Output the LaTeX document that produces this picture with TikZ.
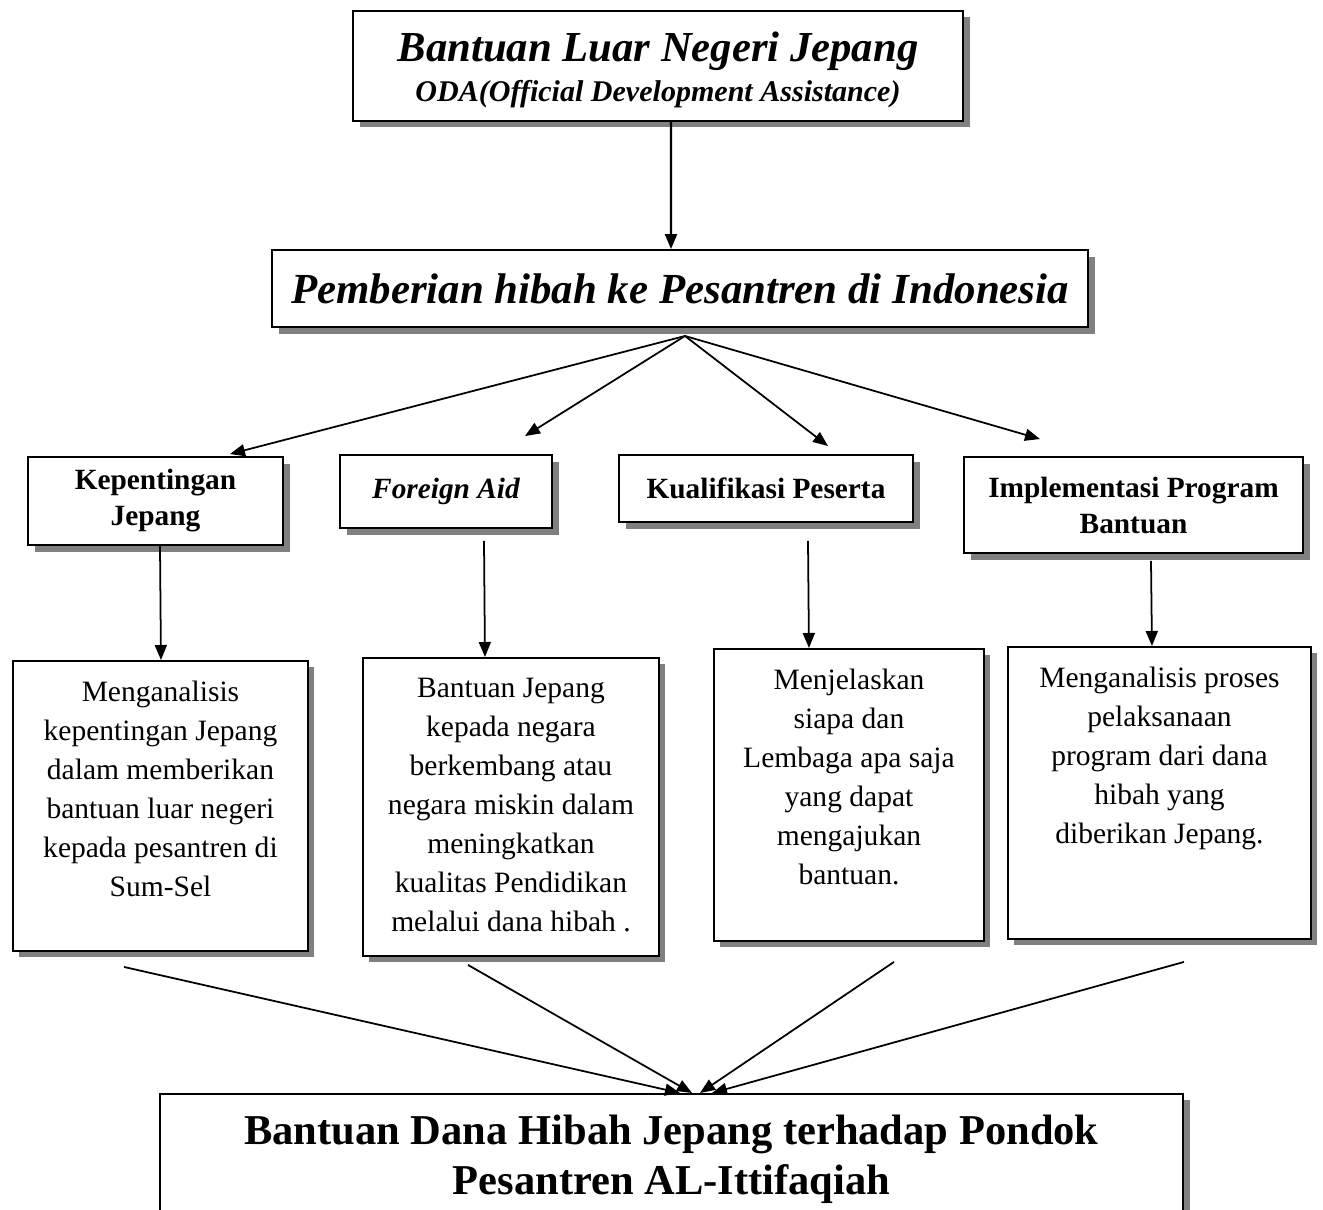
\documentclass[tikz,border=0pt]{standalone}
\usepackage{fontspec}
\setmainfont{Liberation Serif}
\usetikzlibrary{arrows.meta, shadows, calc}

% text of the tall boxes starts at the top
\newcommand{\cellbody}[3]{\parbox[t][#1][t]{#2}{\centering\vspace*{0.4cm}#3}}

\begin{document}
\begin{tikzpicture}[
    >={Triangle[length=0.3cm, width=0.24cm]},
    line width=1pt,
    boxshadow/.style={drop shadow={shadow xshift=0.13cm, shadow yshift=-0.13cm, fill=black!50, opacity=1}},
    frame/.style={draw, fill=white, line width=1.1pt, boxshadow, align=center, inner sep=0pt},
    headbox/.style={frame, font=\fontsize{16.7}{20.5}\selectfont\bfseries},
    descbox/.style={frame, anchor=north west, font=\fontsize{16.8}{22.2}\selectfont},
    arr/.style={->}
]

    \useasboundingbox (0,0) rectangle (26.46,-24.18);

    % Top boxes
    \node[frame, anchor=north] (t1) at (13.16,-0.2)
        {\parbox[t][2.2cm][t]{12.2cm}{\centering\vspace*{0.41cm}%
         {\fontsize{24.3}{28}\selectfont\bfseries\itshape Bantuan Luar Negeri Jepang\par}%
         {\fontsize{17.1}{22.8}\selectfont\bfseries\itshape ODA(Official Development Assistance)\par}}};
    \node[frame, minimum width=16.32cm, minimum height=1.54cm, font=\fontsize{24.4}{30}\selectfont\bfseries\itshape] (t2) at (13.6,-5.77)
        {Pemberian hibah ke Pesantren di Indonesia};

    % Four topics
    \node[headbox, minimum width=5.1cm, minimum height=1.76cm] (k1) at (3.11,-10.02) {Kepentingan\\Jepang};
    \node[headbox, minimum width=4.24cm, minimum height=1.46cm, font=\fontsize{16.7}{20.5}\selectfont\bfseries\itshape] (k2) at (8.92,-9.83) {Foreign Aid};
    \node[headbox, minimum width=5.88cm, minimum height=1.34cm] (k3) at (15.32,-9.77) {Kualifikasi Peserta};
    \node[headbox, minimum width=6.78cm, minimum height=1.92cm] (k4) at (22.67,-10.1) {Implementasi Program\\Bantuan};

    % Descriptions
    \node[descbox] (d1) at (0.24,-13.2) {\cellbody{5.8cm}{5.9cm}{Menganalisis\\kepentingan Jepang\\dalam memberikan\\bantuan luar negeri\\kepada pesantren di\\Sum-Sel}};
    \node[descbox] (d2) at (7.24,-13.14) {\cellbody{5.96cm}{5.92cm}{Bantuan Jepang\\kepada negara\\berkembang atau\\negara miskin dalam\\meningkatkan\\kualitas Pendidikan\\melalui dana hibah .}};
    \node[descbox] (d3) at (14.26,-12.96) {\cellbody{5.84cm}{5.4cm}{Menjelaskan\\siapa dan\\Lembaga apa saja\\yang dapat\\mengajukan\\bantuan.}};
    \node[descbox] (d4) at (20.14,-12.92) {\cellbody{5.84cm}{6.06cm}{Menganalisis proses\\pelaksanaan\\program dari dana\\hibah yang\\diberikan Jepang.}};

    % Result (runs past the lower edge)
    \node[frame, anchor=north, font=\fontsize{24.2}{28.5}\selectfont\bfseries] (b1) at (13.43,-21.86)
        {\parbox[t][3.6cm][t]{20.46cm}{\centering\vspace*{0.42cm}Bantuan Dana Hibah Jepang terhadap Pondok\\Pesantren AL-Ittifaqiah}};

    % Connectors
    \draw[arr, line width=1.3pt] ([xshift=0.26cm]t1.south) -- ([xshift=-0.18cm]t2.north);

    \foreach \k/\ex/\ey in {k1/1.49/0.04, k2/1.58/0.36, k3/1.24/0.16, k4/-1.87/0.34} {
        \draw[arr] ($(t2.south)+(0.1,-0.16)$) -- ($(\k.north)+(\ex,\ey)$);
    }

    \foreach \k/\d/\sx/\sy/\ex in {k1/d1/0.09/0/0.01, k2/d2/0.76/-0.24/-0.52, k3/d3/0.84/-0.36/-0.8, k4/d4/0.35/-0.14/-0.15} {
        \draw[arr] ($(\k.south)+(\sx,\sy)$) -- ($(\d.north)+(\ex,0)$);
    }

    \foreach \d/\sx/\sy/\ex in {d1/-0.73/-0.3/0.17, d2/-0.86/-0.16/0.41, d3/0.9/-0.4/0.57, d4/0.49/-0.44/0.81} {
        \draw[arr] ($(\d.south)+(\sx,\sy)$) -- ($(b1.north)+(\ex,0)$);
    }

\end{tikzpicture}
\end{document}
